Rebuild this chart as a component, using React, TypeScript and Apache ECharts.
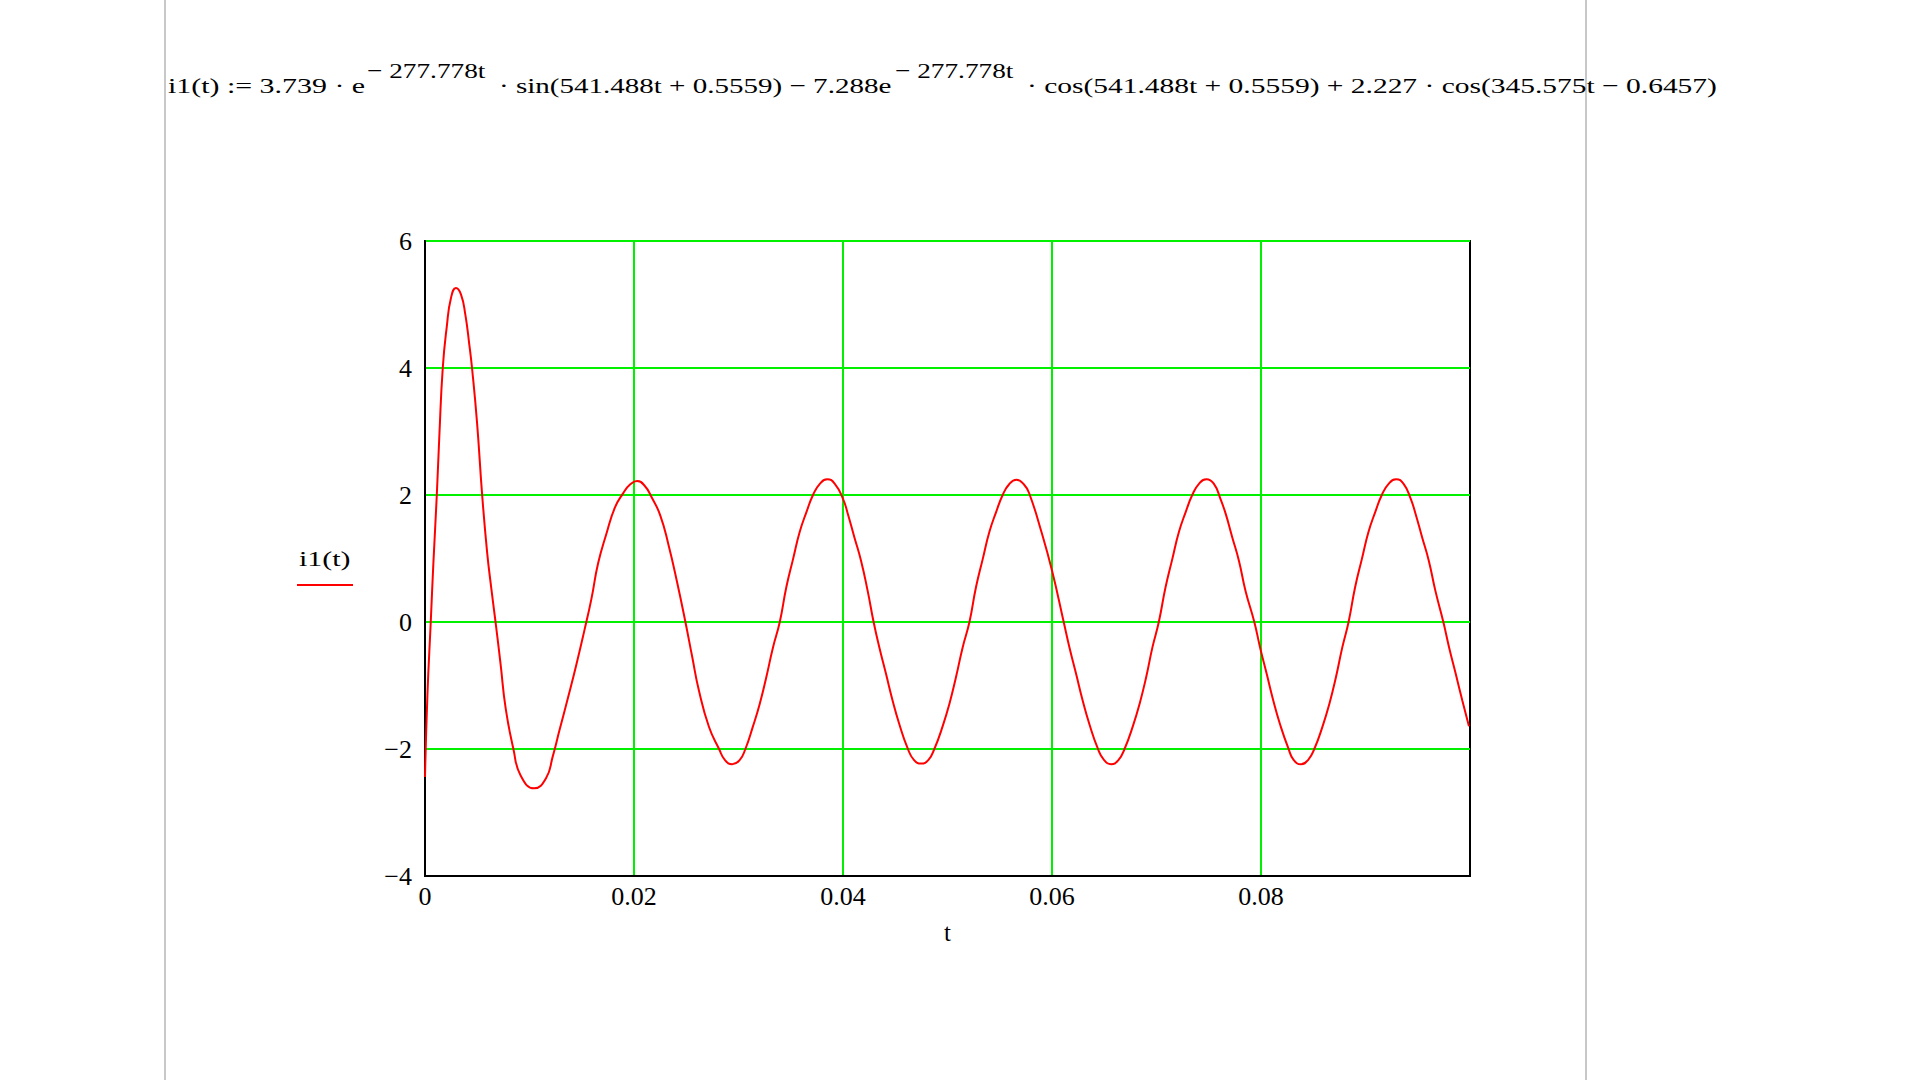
import React, { useRef, useEffect } from 'react';
import * as echarts from 'echarts';

// i1(t): time (s) and current
const tValues = [
  0, 0.00023, 0.00055, 0.0008, 0.00113, 0.00138, 0.0017, 0.00209, 0.00248, 0.00296,
  0.00344, 0.00386, 0.00424, 0.0045, 0.00498, 0.00547, 0.00595, 0.00633, 0.00675, 0.00723,
  0.00772, 0.00846, 0.00916, 0.01045, 0.01158, 0.01222, 0.01286, 0.01367, 0.01447, 0.01527,
  0.01592, 0.01656, 0.01736, 0.01817, 0.01897, 0.0196, 0.0203, 0.021, 0.0217, 0.02251,
  0.02331, 0.02412, 0.02492, 0.02556, 0.0262, 0.02717, 0.02814, 0.02869, 0.02939, 0.03009,
  0.03066, 0.03139, 0.03203, 0.03266, 0.0333, 0.03395, 0.03458, 0.03522, 0.03586, 0.0365,
  0.03713, 0.0378, 0.0385, 0.0392, 0.04, 0.04045, 0.04108, 0.04172, 0.04236, 0.04293,
  0.04348, 0.04412, 0.04475, 0.04539, 0.04619, 0.04678, 0.04748, 0.04818, 0.04874, 0.04954,
  0.05018, 0.05081, 0.05145, 0.0521, 0.05273, 0.05337, 0.05401, 0.05465, 0.05528, 0.0559,
  0.0566, 0.0573, 0.05783, 0.05895, 0.06, 0.06112, 0.06167, 0.06231, 0.06294, 0.06358,
  0.06438, 0.06497, 0.06567, 0.06637, 0.06694, 0.06774, 0.06838, 0.06901, 0.06961, 0.07022,
  0.07087, 0.07151, 0.07215, 0.07279, 0.07342, 0.07408, 0.07478, 0.07548, 0.07612, 0.07661,
  0.07724, 0.07788, 0.07852, 0.07936, 0.07991, 0.08055, 0.08118, 0.08182, 0.08262, 0.08312,
  0.08382, 0.08452, 0.0851, 0.0859, 0.08654, 0.08717, 0.08778, 0.08838, 0.08901, 0.08965,
  0.09029, 0.09093, 0.09156, 0.09223, 0.09293, 0.09363, 0.09433, 0.09478, 0.09541, 0.09605,
  0.09669, 0.09745, 0.098, 0.09864, 0.09927, 0.0999,
];

const i1Values = [
  -2.44, -1.16, 0, 0.92, 2.0, 2.96, 4.0, 4.66, 5.1, 5.26,
  5.16, 4.84, 4.37, 4.0, 3.14, 2.0, 1.09, 0.55, 0, -0.66,
  -1.36, -2.0, -2.42, -2.62, -2.46, -2.12, -1.71, -1.2, -0.68, -0.12,
  0.36, 0.92, 1.39, 1.8, 2.03, 2.16, 2.22, 2.15, 1.96, 1.68,
  1.21, 0.63, 0, -0.54, -1.07, -1.65, -2.0, -2.17, -2.24, -2.18,
  -2.0, -1.64, -1.29, -0.87, -0.4, 0, 0.55, 0.99, 1.42, 1.73,
  2.0, 2.18, 2.25, 2.18, 1.94, 1.71, 1.34, 0.97, 0.49, 0,
  -0.4, -0.82, -1.24, -1.61, -1.99, -2.17, -2.23, -2.17, -2.0, -1.64,
  -1.29, -0.87, -0.4, 0, 0.55, 0.99, 1.42, 1.73, 2.0, 2.17,
  2.24, 2.17, 2.02, 1.44, 0.81, 0, -0.4, -0.82, -1.24, -1.61,
  -1.99, -2.17, -2.24, -2.17, -2.0, -1.64, -1.29, -0.87, -0.4, 0,
  0.55, 0.99, 1.42, 1.73, 2.0, 2.18, 2.25, 2.18, 1.94, 1.71,
  1.34, 0.97, 0.49, 0, -0.4, -0.82, -1.24, -1.61, -1.99, -2.17,
  -2.24, -2.17, -2.0, -1.64, -1.29, -0.87, -0.4, 0, 0.55, 0.99,
  1.42, 1.73, 2.0, 2.18, 2.25, 2.18, 1.94, 1.71, 1.34, 0.97,
  0.49, 0, -0.4, -0.82, -1.24, -1.64,
];

const xTicks = [0, 0.02, 0.04, 0.06, 0.08];
const yTicks = [-4, -2, 0, 2, 4, 6];

// formula above the plot, split at the superscripts
const formulaMain = [
  'i1(t) := 3.739 · e',
  '· sin(541.488t + 0.5559) − 7.288e',
  '· cos(541.488t + 0.5559) + 2.227 · cos(345.575t − 0.6457)',
];
const formulaSup = ['− 277.778t', '− 277.778t'];

const seriesName = 'i1(t)';
const xName = 't';

const SERIF = '"Liberation Serif", "Times New Roman", serif';
const GREEN = '#00f000';

const App = () => {
  const chartRef = useRef(null);

  useEffect(() => {
    const chart = echarts.init(chartRef.current, null, { renderer: 'svg' });

    const data = tValues.map((t, i) => [t, i1Values[i]]);
    const fmtY = (v) => (v < 0 ? '\u2212' + Math.abs(v) : String(v));
    const fmtX = (v) => (v === 0 ? '0' : v.toFixed(2));

    // Mathcad draws its text wide, so the serif text is stretched a little
    const mainX = [168, 499, 1027];
    const mainScale = [1.36, 1.32, 1.34];
    const supX = [367, 895];
    const wideText = (text, x, y, scaleX) => ({
      type: 'text',
      x,
      y,
      scaleX,
      style: {
        text,
        fontFamily: SERIF,
        fontSize: 22,
        fill: '#000',
        align: 'left',
        verticalAlign: 'middle',
      },
    });

    const option = {
      animation: false,
      backgroundColor: '#ffffff',
      grid: {
        left: 425,
        top: 241,
        width: 1045,
        height: 635,
        containLabel: false,
        outerBoundsMode: 'none',
        show: true,
        borderColor: '#000',
        borderWidth: 2,
      },
      xAxis: {
        type: 'value',
        min: 0,
        max: 0.1,
        interval: 0.02,
        name: xName,
        nameLocation: 'middle',
        nameGap: 44,
        nameTextStyle: { fontFamily: SERIF, fontSize: 25, color: '#000' },
        axisLine: { show: true, onZero: false, lineStyle: { color: '#000', width: 2 } },
        axisTick: { show: false },
        axisLabel: {
          showMaxLabel: false,
          margin: 7,
          fontFamily: SERIF,
          fontSize: 26,
          color: '#000',
          formatter: (v) => (xTicks.some((x) => Math.abs(x - v) < 1e-9) ? fmtX(v) : ''),
        },
        splitLine: {
          show: true,
          showMinLine: false,
          showMaxLine: false,
          lineStyle: { color: GREEN, width: 2 },
        },
      },
      yAxis: {
        type: 'value',
        min: -4,
        max: 6,
        interval: 2,
        axisLine: { show: true, onZero: false, lineStyle: { color: '#000', width: 2 } },
        axisTick: { show: false },
        axisLabel: {
          margin: 13,
          fontFamily: SERIF,
          fontSize: 26,
          color: '#000',
          formatter: (v) => (yTicks.includes(v) ? fmtY(v) : ''),
        },
        splitLine: {
          show: true,
          showMinLine: false,
          lineStyle: { color: GREEN, width: 2 },
        },
      },
      series: [
        {
          name: seriesName,
          type: 'line',
          data,
          showSymbol: false,
          smooth: 0.5,
          lineStyle: { color: '#ff0000', width: 2 },
          itemStyle: { color: '#ff0000' },
          z: 5,
        },
      ],
      graphic: {
        elements: [
          {
            type: 'line',
            silent: true,
            shape: { x1: 165, y1: 0, x2: 165, y2: 1080 },
            style: { stroke: '#c8c8c8', lineWidth: 2 },
          },
          {
            type: 'line',
            silent: true,
            shape: { x1: 1586, y1: 0, x2: 1586, y2: 1080 },
            style: { stroke: '#c8c8c8', lineWidth: 2 },
          },
          ...formulaMain.map((text, k) => wideText(text, mainX[k], 86, mainScale[k])),
          ...formulaSup.map((text, k) => wideText(text, supX[k], 70, 1.24)),
          wideText(seriesName, 299, 559, 1.36),
          {
            type: 'line',
            silent: true,
            shape: { x1: 297, y1: 585, x2: 353, y2: 585 },
            style: { stroke: '#ff0000', lineWidth: 2 },
          },
        ],
      },
    };

    chart.setOption(option);

    return () => {
      chart.dispose();
    };
  }, []);

  return (
    <div
      ref={chartRef}
      style={{ position: 'fixed', left: 0, top: 0, width: '1920px', height: '1080px', background: '#fff' }}
    />
  );
};

export default App;
